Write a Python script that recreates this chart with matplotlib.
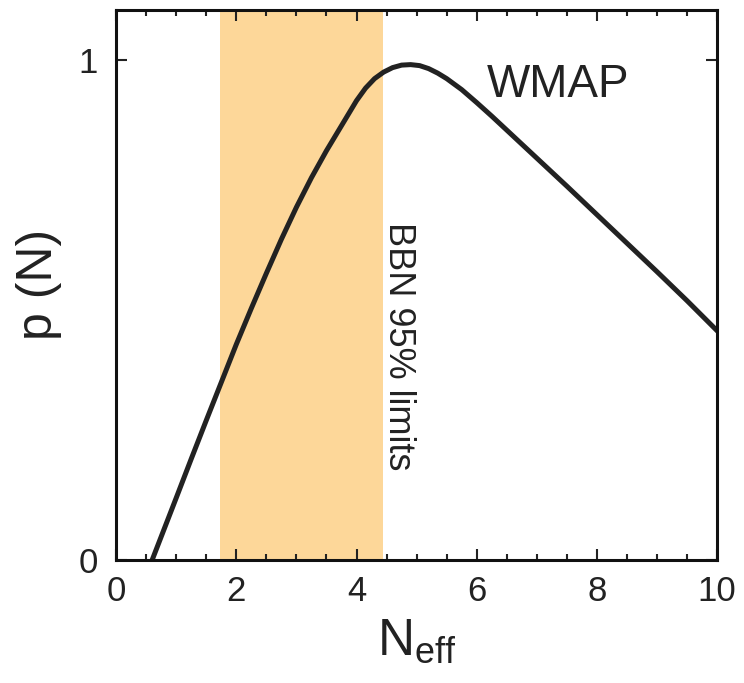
import matplotlib
matplotlib.use("Agg")
import matplotlib.pyplot as plt
from matplotlib.ticker import MultipleLocator

plt.rcParams['font.family'] = ['Liberation Sans', 'DejaVu Sans']
plt.rcParams['mathtext.fontset'] = 'custom'
plt.rcParams['mathtext.rm'] = 'Liberation Sans'
plt.rcParams['mathtext.it'] = 'Liberation Sans'

# WMAP likelihood curve
n_eff = [0.6, 0.8, 1.0, 1.25, 1.5, 1.75, 2.0, 2.25, 2.5, 2.75, 3.0, 3.25,
         3.5, 3.75, 4.0, 4.15, 4.3, 4.45, 4.6, 4.75, 4.9, 5.05, 5.2, 5.35,
         5.5, 5.75, 6.0, 6.25, 6.5, 7.0, 7.5, 8.0, 8.5, 9.0, 9.5, 10.0]
p_n = [0.0, 0.062, 0.124, 0.202, 0.279, 0.355, 0.431, 0.503, 0.573, 0.641,
       0.705, 0.764, 0.818, 0.868, 0.918, 0.943, 0.962, 0.975, 0.984, 0.989,
       0.990, 0.988, 0.982, 0.973, 0.962, 0.940, 0.914, 0.887, 0.859, 0.803,
       0.747, 0.690, 0.633, 0.576, 0.518, 0.458]

# BBN 95% band
bbn_lo, bbn_hi = 1.73, 4.44

fig = plt.figure(figsize=(7.44, 6.83), dpi=100)
ax = fig.add_axes([0.156, 0.180, 0.808, 0.806])

ax.axvspan(bbn_lo, bbn_hi, color='#fdd799', lw=0, zorder=0)
ax.plot(n_eff, p_n, color='#222222', lw=3.6, zorder=2)

ax.set_xlim(0, 10)
ax.set_ylim(0, 1.1)
ax.xaxis.set_major_locator(MultipleLocator(2))
ax.xaxis.set_minor_locator(MultipleLocator(0.5))
ax.set_yticks([0, 1])
ax.set_yticklabels(['0', '1'])

ax.tick_params(which='both', direction='in', top=True, right=True,
               width=1.5, colors='#222222')
ax.tick_params(which='major', length=8)
ax.tick_params(which='minor', length=4)
ax.tick_params(axis='x', which='major', labelsize=25, pad=11)
ax.tick_params(axis='y', which='major', labelsize=25, pad=13)

for sp in ax.spines.values():
    sp.set_linewidth(2.2)
    sp.set_color('#111111')

ax.set_xlabel(r'$\mathrm{N}_{\mathrm{eff}}$', fontsize=37, color='#222222', labelpad=6)
ax.set_ylabel('p (N)', fontsize=36, color='#222222', labelpad=12)

ax.text(7.35, 0.926, 'WMAP', fontsize=33, color='#222222', ha='center', va='baseline')
ax.text(4.40, 0.675, 'BBN 95% limits', fontsize=26, color='#222222',
        rotation=-90, ha='left', va='top')

fig.savefig('out.png', dpi=100)
